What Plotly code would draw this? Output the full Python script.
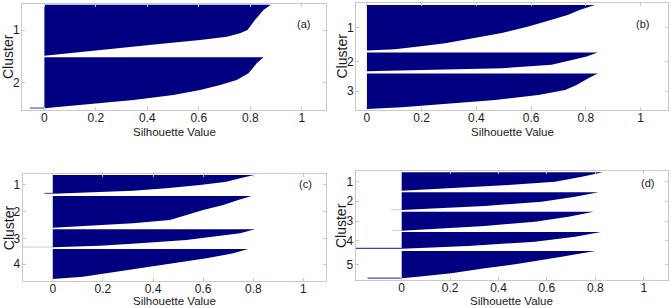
import plotly.graph_objects as go

W, H = 671, 308

# ---------------- data (silhouette profiles) ----------------
X_TICKS = [0, 0.2, 0.4, 0.6, 0.8, 1]
X_TICK_LABELS = ["0", "0.2", "0.4", "0.6", "0.8", "1"]

# panel (a): 2 clusters
A_LABELS = ["1", "2"]
A_SIZES = [153, 153]
A_GAPS = [5]
A_PAD = [2, 5]
A_RANKS = [[0, 16, 46, 76, 86, 96, 106, 116, 126, 136, 146, 153],
           [0, 18, 48, 68, 83, 98, 113, 128, 138, 146, 151, 153]]
A_VALUES = [[0.88, 0.851, 0.818, 0.789, 0.76, 0.709, 0.605, 0.475, 0.346, 0.242, 0.087, 0.0],
            [0.851, 0.825, 0.793, 0.747, 0.683, 0.605, 0.501, 0.346, 0.216, 0.087, 0.02, 0.0]]
A_NEG = [0.0, -0.056]

# panel (b): 3 clusters
B_LABELS = ["1", "2", "3"]
B_SIZES = [136, 56, 106]
B_GAPS = [6, 7]
B_PAD = [6, 3]
B_RANKS = [[0, 14, 29, 44, 64, 84, 99, 114, 124, 132, 136],
           [0, 12, 27, 37, 47, 52, 56],
           [0, 14, 34, 49, 64, 79, 94, 101, 106]]
B_VALUES = [[0.833, 0.779, 0.736, 0.675, 0.59, 0.493, 0.395, 0.286, 0.189, 0.103, 0.0],
            [0.843, 0.803, 0.724, 0.675, 0.493, 0.249, 0.0],
            [0.843, 0.809, 0.766, 0.724, 0.626, 0.468, 0.249, 0.128, 0.0]]
B_NEG = [0.0, 0.0, 0.0]

# panel (c): 4 clusters
C_LABELS = ["1", "2", "3", "4"]
C_SIZES = [56, 95, 54, 90]
C_GAPS = [7, 5, 5]
C_PAD = [3, 6]
C_RANKS = [[0, 10, 20, 30, 40, 47, 53, 56],
           [0, 12, 27, 42, 57, 72, 82, 90, 95],
           [0, 12, 20, 32, 42, 49, 54],
           [0, 13, 28, 43, 58, 73, 83, 90]]
C_VALUES = [[0.803, 0.747, 0.693, 0.587, 0.453, 0.32, 0.12, 0.0],
            [0.793, 0.74, 0.68, 0.6, 0.533, 0.467, 0.32, 0.12, 0.0],
            [0.807, 0.747, 0.667, 0.533, 0.347, 0.187, 0.0],
            [0.78, 0.72, 0.613, 0.48, 0.347, 0.227, 0.12, 0.0]]
C_NEG = [-0.033, 0.0, -0.125, 0.0]

# panel (d): 5 clusters
D_LABELS = ["1", "2", "3", "4", "5"]
D_SIZES = [55, 53, 57, 50, 82]
D_GAPS = [5, 5, 4, 7]
D_PAD = [5, 5]
D_RANKS = [[0, 13, 28, 38, 48, 55],
           [0, 13, 28, 41, 49, 53],
           [0, 15, 30, 43, 52, 57],
           [0, 14, 29, 42, 50],
           [0, 17, 37, 52, 67, 77, 82]]
D_VALUES = [[0.831, 0.744, 0.633, 0.44, 0.205, 0.0],
            [0.813, 0.716, 0.578, 0.343, 0.136, 0.0],
            [0.793, 0.689, 0.55, 0.343, 0.136, 0.0],
            [0.823, 0.716, 0.55, 0.274, 0.0],
            [0.8, 0.661, 0.495, 0.343, 0.205, 0.066, 0.0]]
D_NEG = [0.0, -0.044, -0.041, -0.2, -0.141]

# ---------------- styles / layout ----------------
NAVY = "#000080"
FRAME = "#c9c9c9"
FONT = "Liberation Sans, Arial, sans-serif"

PANELS = [
    dict(name="(a)", box=(22, 4, 326, 110), xr=[-0.087, 1.094], tag=(303.5, 23.5),
         labels=A_LABELS, sizes=A_SIZES, gaps=A_GAPS, pad=A_PAD, ranks=A_RANKS, values=A_VALUES,
         neg=A_NEG, neg_op=[0.6, 0.6]),
    dict(name="(b)", box=(356, 3, 668, 110), xr=[-0.04, 1.10], tag=(642, 24),
         labels=B_LABELS, sizes=B_SIZES, gaps=B_GAPS, pad=B_PAD, ranks=B_RANKS, values=B_VALUES,
         neg=B_NEG, neg_op=[0.6, 0.6, 0.6]),
    dict(name="(c)", box=(22.7, 174, 326, 281), xr=[-0.12, 1.09], tag=(305, 184),
         labels=C_LABELS, sizes=C_SIZES, gaps=C_GAPS, pad=C_PAD, ranks=C_RANKS, values=C_VALUES,
         neg=C_NEG, neg_op=[0.6, 0.6, 0.15, 0.6]),
    dict(name="(d)", box=(355.7, 170.7, 668, 280), xr=[-0.19, 1.10], tag=(647, 183),
         labels=D_LABELS, sizes=D_SIZES, gaps=D_GAPS, pad=D_PAD, ranks=D_RANKS, values=D_VALUES,
         neg=D_NEG, neg_op=[0.6, 0.15, 0.15, 0.75, 0.7]),
]

fig = go.Figure()
annotations = []

def px(x):
    return x / W

def py(y):
    return 1 - y / H

for i, p in enumerate(PANELS):
    sfx = "" if i == 0 else str(i + 1)
    xa, ya = "x" + sfx, "y" + sfx
    starts = []
    pos = p["pad"][0]
    for k, s in enumerate(p["sizes"]):
        starts.append(pos)
        pos += s
        if k < len(p["gaps"]):
            pos += p["gaps"][k]
    total = pos + p["pad"][1]
    centers = []
    for k, s in enumerate(p["sizes"]):
        y0 = starts[k]
        ys = [y0] + [y0 + r for r in p["ranks"][k]] + [y0 + s]
        xs = [0] + list(p["values"][k]) + [0]
        fig.add_trace(go.Scatter(x=xs, y=ys, mode="lines", fill="toself", fillcolor=NAVY,
                                 line=dict(width=0, color=NAVY), xaxis=xa, yaxis=ya,
                                 showlegend=False, hoverinfo="skip"))
        centers.append(y0 + s / 2)
        if p["neg"][k] < 0:
            yn = y0 + s - 0.8
            fig.add_trace(go.Scatter(x=[0, p["neg"][k]], y=[yn, yn], mode="lines",
                                     line=dict(width=1.3, color=NAVY), opacity=p["neg_op"][k],
                                     xaxis=xa, yaxis=ya, showlegend=False, hoverinfo="skip"))
    l, t, r, b = p["box"]
    axis_common = dict(showline=True, linecolor=FRAME, linewidth=1, mirror="ticks",
                       ticks="inside", ticklen=3, tickcolor=FRAME, showgrid=False,
                       zeroline=False, automargin=False,
                       tickfont=dict(family=FONT, size=12, color="#1a1a1a"))
    fig.layout["xaxis" + sfx] = dict(domain=[px(l), px(r)], anchor=ya, range=p["xr"],
                                     tickvals=X_TICKS, ticktext=X_TICK_LABELS,
                                     ticklabelstandoff=-3, **axis_common)
    fig.layout["yaxis" + sfx] = dict(domain=[py(b), py(t)], anchor=xa, range=[total, 0],
                                     tickvals=centers, ticktext=p["labels"],
                                     ticklabelstandoff=-1, **axis_common)
    annotations.append(dict(text="Silhouette Value", x=px((l + r) / 2),
                            y=py(min(b + 21.5, H - 7)), xref="paper", yref="paper",
                            showarrow=False, xanchor="center", yanchor="middle",
                            font=dict(family=FONT, size=11.5, color="#1a1a1a")))
    annotations.append(dict(text="Cluster", x=px(l - 14), y=py((t + b) / 2), xref="paper",
                            yref="paper", showarrow=False, textangle=-90, xanchor="center",
                            yanchor="middle", font=dict(family=FONT, size=14, color="#1a1a1a")))
    annotations.append(dict(text=p["name"], x=px(p["tag"][0]), y=py(p["tag"][1]), xref="paper",
                            yref="paper", showarrow=False, xanchor="center", yanchor="middle",
                            font=dict(family=FONT, size=11, color="#1a1a1a")))

fig.update_layout(width=W, height=H, margin=dict(l=0, r=0, t=0, b=0),
                  paper_bgcolor="white", plot_bgcolor="white", annotations=annotations,
                  font=dict(family=FONT))

fig.write_html("out.html", config={"displayModeBar": False},
               post_script="document.body.style.margin='0';document.body.style.padding='0';"
                           "document.body.style.overflow='hidden';")
